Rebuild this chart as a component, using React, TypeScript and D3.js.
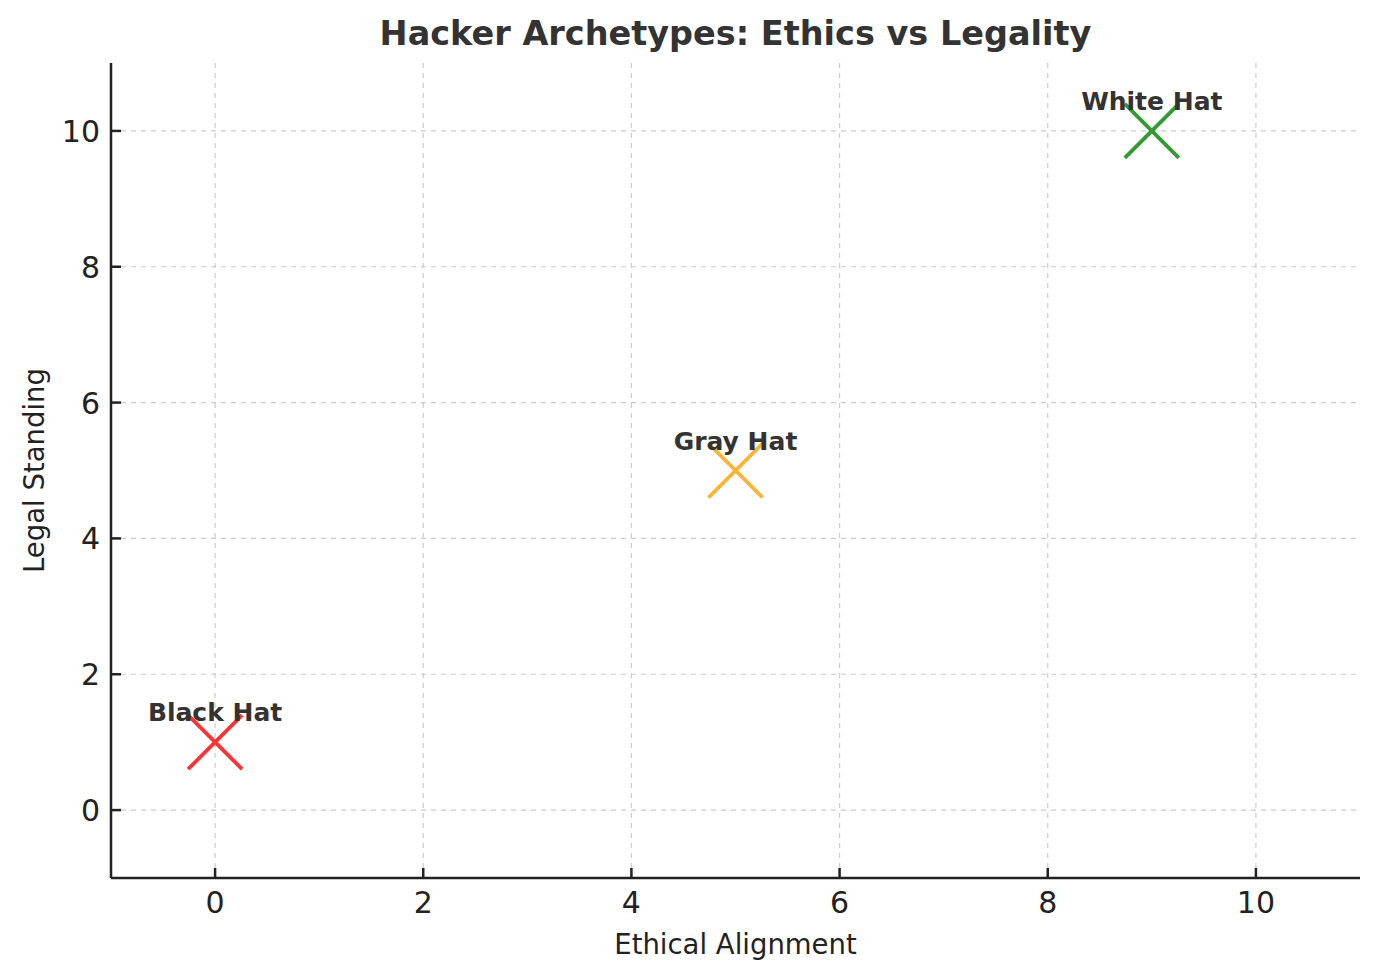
import React from "react";
import * as d3 from "d3";

const names = ["Black Hat", "Gray Hat", "White Hat"];
const ethics = [0, 5, 9];
const legal = [1, 5, 10];
const colors = ["#ff3333", "#ffb233", "#339933"];
const xTicks = [0, 2, 4, 6, 8, 10];
const yTicks = [0, 2, 4, 6, 8, 10];

const W = 1380, H = 980;
const M = { left: 111, right: 1360, top: 63, bottom: 878 };

export default function App() {
  const x = d3.scaleLinear().domain([-1, 11]).range([M.left, M.right]);
  const y = d3.scaleLinear().domain([-1, 11]).range([M.bottom, M.top]);
  const font = "DejaVu Sans, sans-serif";
  const s = 27;
  return (
    <svg width={W} height={H} style={{ position: "absolute", left: 0, top: 0 }} fontFamily={font}>
      <rect width={W} height={H} fill="#fff" />
      {xTicks.map((t) => (
        <line key={"gx" + t} x1={x(t)} x2={x(t)} y1={M.top} y2={M.bottom} stroke="#cccccc" strokeWidth={1.2} strokeDasharray="5,5" />
      ))}
      {yTicks.map((t) => (
        <line key={"gy" + t} x1={M.left} x2={M.right} y1={y(t)} y2={y(t)} stroke="#cccccc" strokeWidth={1.2} strokeDasharray="5,5" />
      ))}
      {names.map((n, i) => {
        const cx = x(ethics[i]), cy = y(legal[i]);
        return (
          <g key={n}>
            <path d={`M${cx - s},${cy - s}L${cx + s},${cy + s}M${cx - s},${cy + s}L${cx + s},${cy - s}`} stroke={colors[i]} strokeWidth={3.8} fill="none" />
            <text x={cx} y={cy - 21} textAnchor="middle" fontSize={25} fontWeight="bold" fill="#333">{n}</text>
          </g>
        );
      })}
      <line x1={M.left} x2={M.left} y1={M.top} y2={M.bottom} stroke="#222" strokeWidth={2.5} />
      <line x1={M.left} x2={M.right} y1={M.bottom} y2={M.bottom} stroke="#222" strokeWidth={2.5} />
      {xTicks.map((t) => (
        <g key={"tx" + t}>
          <line x1={x(t)} x2={x(t)} y1={M.bottom} y2={M.bottom - 10} stroke="#222" strokeWidth={2.5} />
          <text x={x(t)} y={M.bottom + 35} textAnchor="middle" fontSize={30} fill="#222">{t}</text>
        </g>
      ))}
      {yTicks.map((t) => (
        <g key={"ty" + t}>
          <line x1={M.left} x2={M.left + 10} y1={y(t)} y2={y(t)} stroke="#222" strokeWidth={2.5} />
          <text x={M.left - 11} y={y(t) + 11} textAnchor="end" fontSize={30} fill="#222">{t}</text>
        </g>
      ))}
      <text x={(M.left + M.right) / 2} y={954} textAnchor="middle" fontSize={27.5} fill="#222">Ethical Alignment</text>
      <text transform={`translate(44,${(M.top + M.bottom) / 2}) rotate(-90)`} textAnchor="middle" fontSize={27.5} fill="#222">Legal Standing</text>
      <text x={(M.left + M.right) / 2} y={45} textAnchor="middle" fontSize={33.5} fontWeight="bold" fill="#333">Hacker Archetypes: Ethics vs Legality</text>
    </svg>
  );
}
